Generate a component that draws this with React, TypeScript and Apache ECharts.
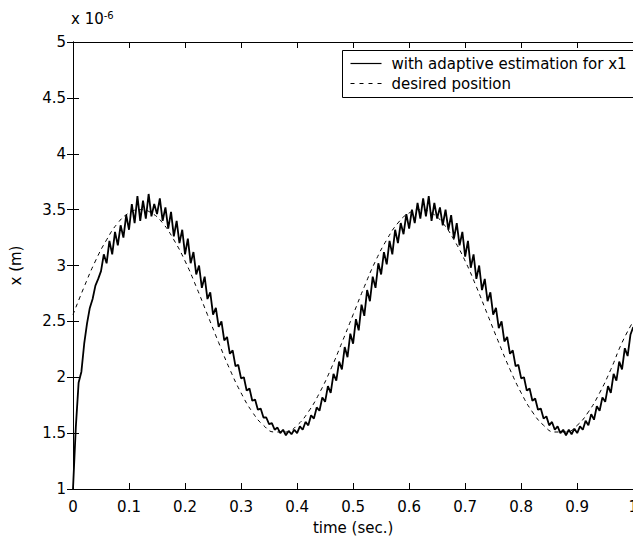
import React, { useEffect, useRef } from "react";
import * as echarts from "echarts";

// time step of the sampled curves (seconds)
const ACTUAL_STEP = 0.005;
const DESIRED_STEP = 0.02;

// position with adaptive estimation for x1 (×1e-6 m), sampled every 0.005 s
const actualValues: number[] = [
  1.0, 1.55, 1.95, 2.05, 2.3, 2.48, 2.62, 2.7, 2.82, 2.88,
  2.95, 3.1, 3.02, 3.22, 3.1, 3.3, 3.18, 3.36, 3.25, 3.45,
  3.32, 3.55, 3.38, 3.62, 3.4, 3.58, 3.42, 3.64, 3.44, 3.55,
  3.46, 3.6, 3.4, 3.52, 3.33, 3.48, 3.26, 3.4, 3.2, 3.32,
  3.1, 3.24, 3.02, 3.12, 2.92, 3.0, 2.8, 2.9, 2.7, 2.76,
  2.56, 2.62, 2.45, 2.5, 2.33, 2.36, 2.21, 2.24, 2.1, 2.11,
  1.99, 2.0, 1.88, 1.9, 1.79, 1.8, 1.71, 1.72, 1.64, 1.64,
  1.58, 1.59, 1.53, 1.55, 1.5, 1.53, 1.48, 1.52, 1.49, 1.53,
  1.5, 1.56, 1.53, 1.6, 1.57, 1.66, 1.63, 1.73, 1.7, 1.82,
  1.78, 1.92, 1.86, 2.03, 1.97, 2.14, 2.07, 2.27, 2.18, 2.39,
  2.3, 2.52, 2.42, 2.65, 2.55, 2.78, 2.68, 2.9, 2.8, 3.02,
  2.92, 3.12, 3.01, 3.22, 3.1, 3.32, 3.2, 3.38, 3.28, 3.46,
  3.33, 3.5, 3.38, 3.56, 3.42, 3.6, 3.44, 3.62, 3.4, 3.56,
  3.42, 3.52, 3.36, 3.5, 3.32, 3.45, 3.24, 3.38, 3.18, 3.3,
  3.08, 3.22, 2.98, 3.1, 2.88, 3.0, 2.78, 2.88, 2.68, 2.76,
  2.56, 2.62, 2.44, 2.5, 2.32, 2.36, 2.21, 2.24, 2.1, 2.11,
  1.99, 2.0, 1.88, 1.9, 1.79, 1.81, 1.71, 1.72, 1.63, 1.65,
  1.57, 1.6, 1.53, 1.56, 1.5, 1.53, 1.48, 1.53, 1.49, 1.54,
  1.5, 1.56, 1.53, 1.61, 1.57, 1.67, 1.62, 1.74, 1.7, 1.82,
  1.78, 1.92, 1.86, 2.03, 1.97, 2.14, 2.07, 2.26, 2.19, 2.38,
  2.45,
];

// desired position (×1e-6 m), sampled every 0.02 s
const desiredValues: number[] = [
  2.56, 2.81, 3.04, 3.23, 3.38, 3.47, 3.5, 3.47, 3.38, 3.23,
  3.04, 2.81, 2.56, 2.31, 2.07, 1.86, 1.69, 1.57, 1.51, 1.51,
  1.57, 1.69, 1.86, 2.07, 2.31, 2.56, 2.81, 3.04, 3.23, 3.38,
  3.47, 3.5, 3.47, 3.38, 3.23, 3.04, 2.81, 2.56, 2.31, 2.07,
  1.86, 1.69, 1.57, 1.51, 1.51, 1.57, 1.69, 1.86, 2.07, 2.31,
  2.5,
];

const seriesNames = ["with adaptive estimation for x1", "desired position"];
const xAxisName = "time (sec.)";
const yAxisName = "x (m)";

const FONT = "DejaVu Sans";

export default function App() {
  const ref = useRef<HTMLDivElement>(null);

  useEffect(() => {
    if (!ref.current) return;
    const chart = echarts.init(ref.current, undefined, { renderer: "svg" });

    const actualData = actualValues.map((v, i) => [
      +(i * ACTUAL_STEP).toFixed(3),
      v,
    ]);
    const desiredData = desiredValues.map((v, i) => [
      +(i * DESIRED_STEP).toFixed(3),
      v,
    ]);

    const axisCommon = {
      axisLine: { show: true, lineStyle: { color: "#000", width: 1 } },
      axisTick: {
        show: true,
        inside: true,
        length: 6,
        lineStyle: { color: "#000", width: 1 },
      },
      splitLine: { show: false },
    };

    const textStyle = { fill: "#000", font: `15px ${FONT}` };

    chart.setOption({
      animation: false,
      backgroundColor: "#fff",
      grid: { left: 71, right: 3, top: 42, bottom: 55, containLabel: false },
      xAxis: [
        {
          type: "value",
          min: 0,
          max: 1,
          interval: 0.1,
          position: "bottom",
          ...axisCommon,
          axisLabel: {
            color: "#000",
            fontFamily: FONT,
            fontSize: 15,
            margin: 10,
          },
          name: xAxisName,
          nameLocation: "middle",
          nameGap: 31,
          nameTextStyle: { color: "#000", fontFamily: FONT, fontSize: 15 },
        },
        {
          type: "value",
          min: 0,
          max: 1,
          interval: 0.1,
          position: "top",
          ...axisCommon,
          axisLabel: { show: false },
        },
      ],
      yAxis: [
        {
          type: "value",
          min: 1,
          max: 5,
          interval: 0.5,
          position: "left",
          ...axisCommon,
          axisLabel: {
            color: "#000",
            fontFamily: FONT,
            fontSize: 15,
            margin: 7,
          },
          name: yAxisName,
          nameLocation: "middle",
          nameGap: 50,
          nameRotate: 90,
          nameTextStyle: { color: "#000", fontFamily: FONT, fontSize: 15 },
        },
        {
          type: "value",
          min: 1,
          max: 5,
          interval: 0.5,
          position: "right",
          ...axisCommon,
          axisLabel: { show: false },
        },
      ],
      legend: { show: false },
      graphic: [
        {
          type: "text",
          left: 71,
          top: 10,
          style: {
            text: "x 10{sup|-6}",
            fill: "#000",
            font: `15px ${FONT}`,
            rich: {
              sup: {
                fontSize: 10,
                fontFamily: FONT,
                fill: "#000",
                verticalAlign: "top",
                padding: [0, 0, 8, 0],
              },
            },
          },
        },
        {
          type: "group",
          left: 342,
          top: 50,
          z: 100,
          children: [
            {
              type: "rect",
              shape: { x: 0, y: 0, width: 292, height: 47 },
              style: { fill: "#fff", stroke: "#000", lineWidth: 1 },
            },
            {
              type: "line",
              shape: { x1: 8, y1: 13, x2: 39, y2: 13 },
              style: { stroke: "#000", lineWidth: 1.2 },
            },
            {
              type: "text",
              x: 49,
              y: 13,
              style: {
                ...textStyle,
                text: seriesNames[0],
                verticalAlign: "middle",
              },
            },
            {
              type: "line",
              shape: { x1: 8, y1: 33, x2: 39, y2: 33 },
              style: { stroke: "#000", lineWidth: 1, lineDash: [4, 5] },
            },
            {
              type: "text",
              x: 49,
              y: 33,
              style: {
                ...textStyle,
                text: seriesNames[1],
                verticalAlign: "middle",
              },
            },
          ],
        },
      ],
      series: [
        {
          name: seriesNames[0],
          type: "line",
          data: actualData,
          symbol: "none",
          clip: true,
          lineStyle: { color: "#000", width: 1.8, type: "solid" },
          itemStyle: { color: "#000" },
          z: 3,
        },
        {
          name: seriesNames[1],
          type: "line",
          data: desiredData,
          smooth: true,
          symbol: "none",
          clip: true,
          lineStyle: { color: "#000", width: 1, type: [4, 4] },
          itemStyle: { color: "#000" },
          z: 2,
        },
      ],
    });

    return () => chart.dispose();
  }, []);

  return <div ref={ref} style={{ width: 641, height: 544, margin: -8 }} />;
}
